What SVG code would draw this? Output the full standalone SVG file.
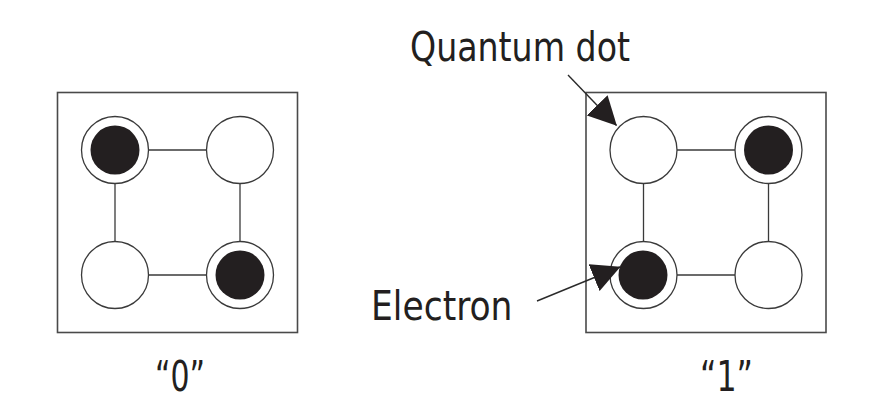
<svg xmlns="http://www.w3.org/2000/svg" width="877" height="406" viewBox="0 0 877 406">
<style>
.frame{fill:none;stroke:#4a4a4a;stroke-width:1.6}
.dot{fill:#fff;stroke:#3a3a3a;stroke-width:1.3}
.e{fill:#231f20}
.link{stroke:#3a3a3a;stroke-width:1.3;fill:none}
.lbl{font-family:"Liberation Sans Narrow","DejaVu Sans Condensed","Liberation Sans",sans-serif;fill:#231f20}
.arrow{stroke:#2a2a2a;stroke-width:1.4;fill:none;marker-end:url(#ah)}
</style>
<defs>
<marker id="ah" markerUnits="userSpaceOnUse" viewBox="0 0 28.5 29" markerWidth="28.5" markerHeight="29" refX="28" refY="14.5" orient="auto">
<path d="M0,0 L28.5,14.5 L0,29 z" fill="#231f20"/>
</marker>
</defs>
<rect width="877" height="406" fill="#fff"/>
<g id="cell0">
<rect class="frame" x="57.5" y="92.5" width="240" height="240"/>
<g class="link">
<line x1="148.5" y1="150" x2="206.5" y2="150"/>
<line x1="148.5" y1="275" x2="206.5" y2="275"/>
<line x1="115" y1="183.5" x2="115" y2="241.5"/>
<line x1="240" y1="183.5" x2="240" y2="241.5"/>
</g>
<g id="c0-tl"><circle class="dot" cx="115" cy="150" r="33.5"/><circle class="e" cx="115" cy="150" r="24.5"/></g>
<g id="c0-tr"><circle class="dot" cx="240" cy="150" r="33.5"/></g>
<g id="c0-bl"><circle class="dot" cx="115" cy="275" r="33.5"/></g>
<g id="c0-br"><circle class="dot" cx="240" cy="275" r="33.5"/><circle class="e" cx="240" cy="275" r="24.5"/></g>
</g>
<g id="cell1">
<rect class="frame" x="586" y="92.5" width="240" height="240"/>
<g class="link">
<line x1="677" y1="150" x2="735" y2="150"/>
<line x1="677" y1="275" x2="735" y2="275"/>
<line x1="643.5" y1="183.5" x2="643.5" y2="241.5"/>
<line x1="768.5" y1="183.5" x2="768.5" y2="241.5"/>
</g>
<g id="c1-tl"><circle class="dot" cx="643.5" cy="150" r="33.5"/></g>
<g id="c1-tr"><circle class="dot" cx="768.5" cy="150" r="33.5"/><circle class="e" cx="768.5" cy="150" r="24.5"/></g>
<g id="c1-bl"><circle class="dot" cx="643.5" cy="275" r="33.5"/><circle class="e" cx="643" cy="275" r="24.5"/></g>
<g id="c1-br"><circle class="dot" cx="768.5" cy="275" r="33.5"/></g>
</g>
<g id="connectors">
<line class="arrow" x1="568" y1="75" x2="616.5" y2="125.5"/>
<line class="arrow" x1="537" y1="301" x2="620" y2="267"/>
</g>
<g id="labels">
<text class="lbl" x="410" y="61" font-size="41" textLength="220" lengthAdjust="spacingAndGlyphs">Quantum dot</text>
<text class="lbl" x="371" y="319.5" font-size="41" textLength="141.5" lengthAdjust="spacingAndGlyphs">Electron</text>
<text class="lbl" x="155" y="391" font-size="43" textLength="50" lengthAdjust="spacingAndGlyphs">“0”</text>
<text class="lbl" x="700" y="390.5" font-size="43" textLength="53" lengthAdjust="spacingAndGlyphs">“1”</text>
</g>
</svg>
